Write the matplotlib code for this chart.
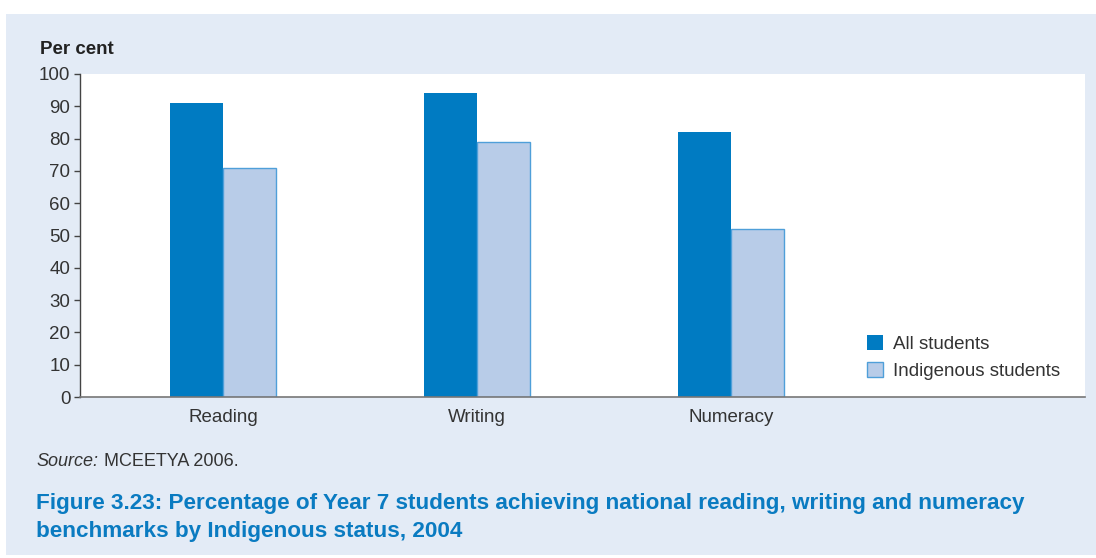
import matplotlib
matplotlib.use("Agg")
import matplotlib.pyplot as plt
from matplotlib.patches import Rectangle, Patch
import numpy as np

categories = ["Reading", "Writing", "Numeracy"]
all_students = [91, 94, 82]
indigenous_students = [71, 79, 52]
yticks = [0, 10, 20, 30, 40, 50, 60, 70, 80, 90, 100]
series_labels = ["All students", "Indigenous students"]

plt.rcParams['font.family'] = ['Liberation Sans', 'DejaVu Sans']

W, H = 1096, 558
fig = plt.figure(figsize=(W / 100, H / 100), dpi=100)
fig.patch.set_facecolor('white')

def fx(px):
    return px / W

def fy(py):
    return 1 - py / H

# background panel
fig.patches.append(Rectangle((fx(6), fy(555)), fx(1096) - fx(6), fy(14) - fy(555),
                             transform=fig.transFigure, facecolor='#e3ebf6',
                             edgecolor='none', zorder=-10))

ax = fig.add_axes([fx(80), fy(397), fx(1085) - fx(80), fy(74) - fy(397)])
ax.set_zorder(5)
ax.set_facecolor('white')

dark = '#007bc2'
light = '#b8cce8'
light_edge = '#4f9fd9'
text_col = '#333333'

x = np.arange(len(categories))
w = 0.2087
ax.bar(x - w / 2, all_students, width=w, color=dark, edgecolor='none', zorder=2)
ax.bar(x + w / 2, indigenous_students, width=w, color=light, edgecolor=light_edge,
       linewidth=1.0, zorder=2)

ax.set_xlim(-0.563, 3.394)
ax.set_ylim(0, 100)
ax.set_yticks(yticks)
ax.set_yticklabels([str(t) for t in yticks], fontsize=13.5, color=text_col)
ax.set_xticks(x)
ax.set_xticklabels(categories, fontsize=13.5, color=text_col)
ax.tick_params(axis='x', length=0, pad=9)
ax.tick_params(axis='y', length=4, width=1, color='#444444', pad=3)

for s in ['top', 'right']:
    ax.spines[s].set_visible(False)
ax.spines['left'].set_color('#444444')
ax.spines['bottom'].set_color('#777777')
ax.spines['left'].set_linewidth(1.0)
ax.spines['bottom'].set_linewidth(1.2)

handles = [Patch(facecolor=dark, edgecolor='none'),
           Patch(facecolor=light, edgecolor=light_edge, linewidth=1.0)]
leg = ax.legend(handles, series_labels, loc='upper left',
                bbox_to_anchor=((867 - 80) / 1005, (397 - 335) / 323),
                frameon=False, fontsize=13.5, handlelength=0.85, handleheight=0.85,
                handletextpad=0.55, labelspacing=0.5, borderpad=0, borderaxespad=0)
for t in leg.get_texts():
    t.set_color(text_col)

fig.text(fx(40), fy(50), "Per cent", fontsize=13.5, fontweight='bold', color='#222222',
         va='center', ha='left')

fig.text(fx(36), fy(461), "Source:", fontsize=13, style='italic', color=text_col,
         va='center', ha='left')
fig.text(fx(104), fy(461), "MCEETYA 2006.", fontsize=13, color=text_col,
         va='center', ha='left')

title_col = '#0a7bc1'
fig.text(fx(36), fy(504), "Figure 3.23: Percentage of Year 7 students achieving national reading, writing and numeracy",
         fontsize=16.2, fontweight='bold', color=title_col, va='center', ha='left')
fig.text(fx(36), fy(531), "benchmarks by Indigenous status, 2004",
         fontsize=16.2, fontweight='bold', color=title_col, va='center', ha='left')

fig.savefig("out.png", dpi=100, facecolor=fig.get_facecolor())
